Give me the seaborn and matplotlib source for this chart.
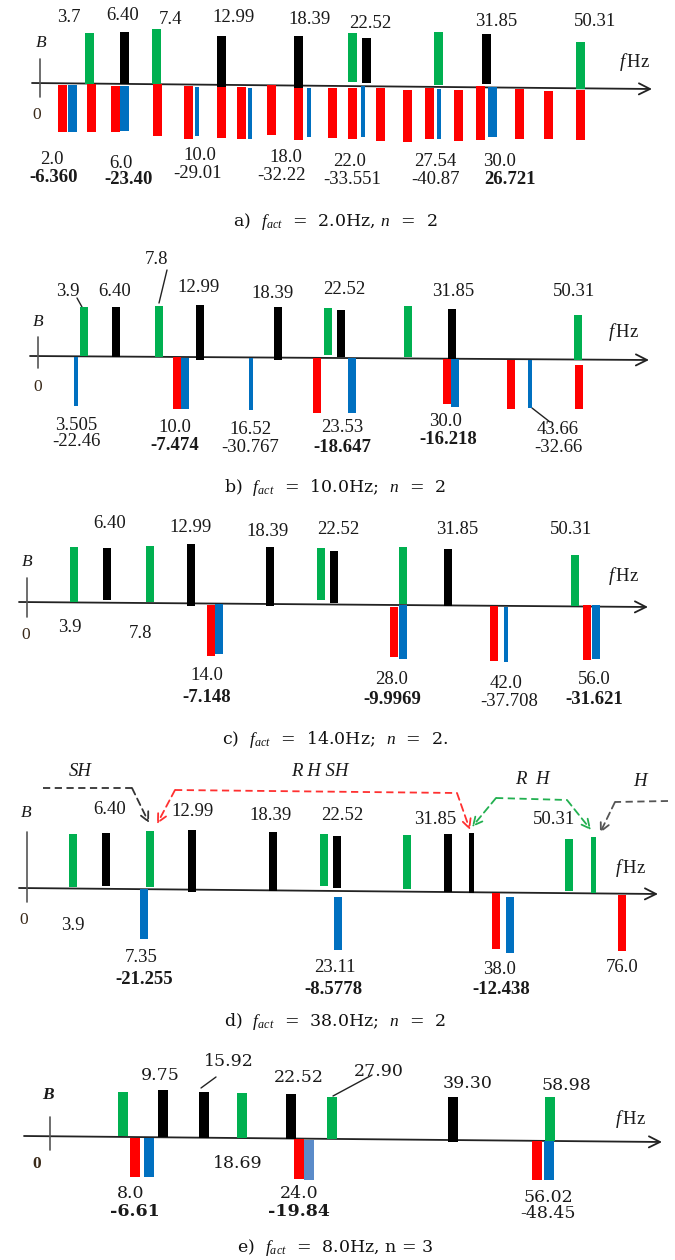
import numpy as np
import matplotlib
matplotlib.use("Agg")
import matplotlib.pyplot as plt
import seaborn as sns

sns.set_theme(style="white")
plt.rcParams['font.family'] = ['Liberation Serif', 'DejaVu Serif']
plt.rcParams['mathtext.fontset'] = 'custom'
plt.rcParams['mathtext.rm'] = 'Liberation Serif'
plt.rcParams['mathtext.it'] = 'Liberation Serif:italic'
plt.rcParams['mathtext.bf'] = 'Liberation Serif:bold'

# ---------------- data ----------------
# panel a
a_up_pos = [89, 124, 156, 221, 298, 352, 366, 438, 486, 580]
a_up_kind = "GKGKKGKGKG"
a_up_top = [51, 52, 55, 49, 50, 53, 48, 55, 53, 46]
a_up_bot = [0, 0, 0, -2, -2, 4, 3, 2, 3, -1]
a_dn_pos = [62, 72, 91, 115, 124, 157, 188, 197, 221, 241, 250, 271, 298, 309,
            332, 352, 363, 380, 407, 429, 439, 458, 480, 492, 519, 548, 580]
a_dn_kind = "RBRRB" + "RRb" * 4 + "RRRb" + "RRB" + "RRR"
a_dn_off = [2, 2, 0, 2, 2, 0, 1.5, 2, 2.5, 2, 3, 0, 2, 2, 2.5, 2, 0, 2, 3.4, 1.5,
            2, 3, -1.5, 0, 1.6, 2.7, 1.7]
a_dn_len = [49, 49, 48, 48, 47, 52, 54, 51.5, 53, 54, 54, 50, 54, 51, 52, 53, 50.5,
            55, 55, 52.5, 52.5, 53.5, 52.7, 50, 51.6, 51.3, 51.7]
a_top_txt = ["3.7", "6.40", "7.4", "12.99", "18.39", "22.52", "31.85", "50.31"]
a_top_x = [69, 123, 170, 234, 310, 370, 496, 595]
a_top_y = [18, 15, 19, 18, 19, 23, 22, 22]
a_frq_txt = ["2.0", "6.0", "10.0", "18.0", "22.0", "27.54", "30.0"]
a_frq_x = [52, 121, 200, 286, 350, 435, 500]
a_frq_y = [159, 163, 155, 157, 161, 161, 161]
a_val_txt = ["-6.360", "-23.40", "-29.01", "-32.22", "-33.551", "-40.87", "26.721"]
a_val_x = [54, 129, 197, 281, 352, 435, 510]
a_val_y = [178, 180, 173, 175, 180, 180, 179]
a_val_bold = [1, 1, 0, 0, 0, 0, 1]

# panel b
b_up_pos = [84, 116, 159, 200, 278, 328, 341, 408, 452, 578]
b_up_kind = "GKGKKGKGKG"
b_up_top = [49, 50, 51, 52, 51, 50, 48, 52, 50, 45]
b_up_bot = [0, 0, 0, -3, -2.5, 3, 1, 1, -1.5, 0]
b_dn_pos = [76, 177, 185, 251, 317, 352, 447, 455, 511, 530, 579]
b_dn_kind = "bRBbRBRBRbR"
b_dn_off = [1, 0, 1, 1, 0, 0, 0, 0, 1, 1, 5.5]
b_dn_len = [50, 52, 52, 52.5, 55, 54.5, 45, 48, 50, 49, 49.5]
b_top_txt = ["3.9", "6.40", "7.8", "12.99", "18.39", "22.52", "31.85", "50.31"]
b_top_x = [68, 115, 157, 199, 273, 344, 453, 574]
b_top_y = [292, 292, 260, 288, 293, 290, 292, 292]
b_frq_txt = ["3.505", "10.0", "16.52", "23.53", "30.0", "43.66"]
b_frq_x = [76, 175, 250, 342, 446, 558]
b_frq_y = [425, 427, 430, 428, 422, 430]
b_val_txt = ["-22.46", "-7.474", "-30.767", "-18.647", "-16.218", "-32.66"]
b_val_x = [76, 175, 250, 342, 448, 558]
b_val_y = [442, 445, 448, 447, 440, 448]
b_val_bold = [0, 1, 0, 1, 1, 0]

# panel c
c_up_pos = [74, 107, 150, 191, 270, 321, 334, 403, 448, 575]
c_up_kind = "GKGKKGKGKG"
c_up_top = [55, 55, 57, 59, 57, 56, 54, 58, 56, 51]
c_up_bot = [0, 2.5, 1, -2.5, -2, 4.5, 2, 1, -0.5, 0]
c_dn_pos = [211, 219, 394, 403, 494, 506, 587, 596]
c_dn_kind = "RBRBRbRB"
c_dn_off = [1.5, 0, 1.7, 0, 0, 1.5, -2, -2]
c_dn_len = [52, 50, 52, 54, 55, 56, 53, 52]
c_top_txt = ["6.40", "12.99", "18.39", "22.52", "31.85", "50.31", "3.9", "7.8"]
c_top_x = [110, 191, 268, 338, 457, 571, 70, 141]
c_top_y = [523, 527, 532, 529, 529, 529, 627, 634]
c_frq_txt = ["14.0", "28.0", "42.0", "56.0"]
c_frq_x = [207, 392, 506, 594]
c_frq_y = [675, 679, 683, 679]
c_val_txt = ["-7.148", "-9.9969", "-37.708", "-31.621"]
c_val_x = [207, 392, 509, 594]
c_val_y = [697, 699, 702, 700]
c_val_bold = [1, 1, 0, 1]

# panel d
d_up_pos = [73, 106, 150, 192, 273, 324, 337, 407, 448, 471, 569, 593]
d_up_kind = "GKGKKGKGKkGg"
d_up_top = [55, 56, 58, 60, 58, 57, 55, 57, 58, 59, 54, 56]
d_up_bot = [2, 3, 2.5, -2, -1, 5, 3, 3, 0, -1, 2.5, 0]
d_dn_pos = [144, 338, 496, 510, 622]
d_dn_kind = "BBRBR"
d_dn_off = [0, 5.7, 1, 4, 1.3]
d_dn_len = [50, 59, 57, 60, 57]
d_top_txt = ["6.40", "12.99", "18.39", "22.52", "31.85", "50.31", "3.9"]
d_top_x = [110, 193, 271, 342, 435, 554, 73]
d_top_y = [809, 812, 816, 815, 819, 820, 925]
d_frq_txt = ["7.35", "23.11", "38.0", "76.0"]
d_frq_x = [141, 335, 500, 622]
d_frq_y = [958, 968, 970, 968]
d_val_txt = ["-21.255", "-8.5778", "-12.438"]
d_val_x = [144, 333, 501]
d_val_y = [980, 989, 990]
d_val_bold = [1, 1, 1]
d_tag_txt = ["SH", "R H SH", "R  H", "H"]
d_tag_x = [80, 320, 532, 640]
d_tag_y = [772, 772, 780, 782]

# panel e
e_up_pos = [123, 163, 204, 242, 291, 332, 453, 550]
e_up_kind = "GKKGKGKG"
e_up_top = [45, 47, 46, 45, 44.5, 42, 43, 44]
e_up_bot = [1, 0, 0, 0, 0, 0, -2, 0]
e_dn_pos = [135, 149, 299, 309, 537, 549]
e_dn_kind = "RBRLRB"
e_dn_off = [1, 1, 0, 1, 0, 0]
e_dn_len = [40, 40, 40, 41, 39, 39]
e_top_txt = ["9.75", "15.92", "22.52", "27.90", "39.30", "58.98", "18.69"]
e_top_x = [160, 229, 299, 379, 468, 566, 238]
e_top_y = [1075, 1062, 1078, 1071, 1083, 1085, 1163]
e_frq_txt = ["8.0", "24.0", "56.02"]
e_frq_x = [131, 299, 548]
e_frq_y = [1193, 1193, 1197]
e_val_txt = ["-6.61", "-19.84", "-48.45"]
e_val_x = [135, 299, 548]
e_val_y = [1212, 1212, 1213]
e_val_bold = [1, 1, 0]

captions = [r"a)  $f_{act}$  =  2.0Hz, $n$  =  2",
            r"b)  $f_{act}$  =  10.0Hz;  $n$  =  2",
            r"c)  $f_{act}$  =  14.0Hz;  $n$  =  2.",
            r"d)  $f_{act}$  =  38.0Hz;  $n$  =  2",
            r"e)  $f_{act}$  =  8.0Hz, n = 3"]

# ---------------- layout / style ----------------
COL = {'G': '#00b050', 'g': '#00b050', 'K': '#000000', 'k': '#000000',
       'R': '#ff0000', 'B': '#0070c0', 'b': '#0070c0', 'L': '#5b8bc9'}
WID = {'G': 9, 'g': 5, 'K': 9, 'k': 5, 'R': 9, 'B': 9, 'b': 4, 'L': 10}
AXES = {
    'a': dict(line=(32, 83, 652, 89), tick=(40, 59, 97), B=(41, 43), Z=(37, 115), F=(634, 62), cap=222, w=9),
    'b': dict(line=(30, 356, 649, 360), tick=(38, 337, 368), B=(38, 322), Z=(38, 387), F=(623, 332), cap=487, w=8.5),
    'c': dict(line=(19, 602, 648, 607), tick=(27, 578, 617), B=(27, 562), Z=(26, 635), F=(623, 576), cap=740, w=8.5),
    'd': dict(line=(19, 888, 658, 894), tick=(27, 832, 902), B=(26, 813), Z=(24, 920), F=(630, 868), cap=1022, w=8.5),
    'e': dict(line=(24, 1136, 662, 1142), tick=(50, 1117, 1150), B=(48, 1095), Z=(37, 1164), F=(630, 1119), cap=1248, w=10),
}
FS = 13.5
TXT = '#1a1a1a'

fig = plt.figure(figsize=(6.75, 12.6), dpi=100)
ax = fig.add_axes([0, 0, 1, 1])
ax.set_xlim(0, 675)
ax.set_ylim(1260, 0)
ax.axis('off')


def baseline(cfg, x):
    xl, yl, xr, yr = cfg['line']
    return yl + (yr - yl) * (np.asarray(x, float) - xl) / (xr - xl)


def draw_panel(key, up_pos, up_kind, up_top, up_bot, dn_pos, dn_kind, dn_off, dn_len,
               top_txt, top_x, top_y, frq_txt, frq_x, frq_y, val_txt, val_x, val_y,
               val_bold, caption, family=None, fs=FS):
    cfg = AXES[key]
    xl, yl, xr, yr = cfg['line']
    fam = family or ['Liberation Serif', 'DejaVu Serif']
    ax.annotate("", xy=(xr, yr), xytext=(xl, yl),
                arrowprops=dict(arrowstyle='->', lw=1.3, color='#222222',
                                mutation_scale=20, shrinkA=0, shrinkB=0), zorder=1)
    tx, t0, t1 = cfg['tick']
    ax.plot([tx, tx], [t0, t1], color='#555555', lw=1.2, zorder=1)
    # upper bars
    up_pos = np.asarray(up_pos, float)
    yb = baseline(cfg, up_pos)
    top = yb - np.asarray(up_top, float)
    bot = yb - np.asarray(up_bot, float)
    widths = [cfg['w'] if k.isupper() else WID[k] for k in up_kind]
    ax.bar(up_pos, bot - top, bottom=top, width=widths,
           color=[COL[k] for k in up_kind], linewidth=0, zorder=3)
    # lower bars
    dn_pos = np.asarray(dn_pos, float)
    yb = baseline(cfg, dn_pos)
    start = yb + np.asarray(dn_off, float)
    end = yb + np.asarray(dn_len, float)
    widths = [WID[k] if k in 'bL' else cfg['w'] for k in dn_kind]
    ax.bar(dn_pos, end - start, bottom=start, width=widths,
           color=[COL[k] for k in dn_kind], linewidth=0, zorder=3)
    # labels
    for t, x, y in zip(top_txt, top_x, top_y):
        ax.text(x, y, t, ha='center', va='center', fontsize=fs, color=TXT, family=fam)
    for t, x, y in zip(frq_txt, frq_x, frq_y):
        ax.text(x, y, t, ha='center', va='center', fontsize=fs, color=TXT, family=fam)
    for t, x, y, b in zip(val_txt, val_x, val_y, val_bold):
        ax.text(x, y, t, ha='center', va='center', fontsize=fs, color=TXT, family=fam,
                fontweight='bold' if b else 'normal')
    ax.text(*cfg['B'], "B", ha='center', va='center', fontsize=12.5, style='italic',
            color=TXT, fontweight='bold' if key == 'e' else 'normal')
    ax.text(*cfg['Z'], "0", ha='center', va='center', fontsize=12.5, color='#3a2a1a',
            fontweight='bold' if key == 'e' else 'normal')
    ax.text(*cfg['F'], r"$f\,$Hz", ha='center', va='center', fontsize=13.5, color=TXT)
    ax.text(335, cfg['cap'], caption, ha='center', va='center', fontsize=12.5,
            color='#111111', family=['DejaVu Serif'])


draw_panel('a', a_up_pos, a_up_kind, a_up_top, a_up_bot, a_dn_pos, a_dn_kind, a_dn_off, a_dn_len,
           a_top_txt, a_top_x, a_top_y, a_frq_txt, a_frq_x, a_frq_y, a_val_txt, a_val_x, a_val_y,
           a_val_bold, captions[0])
draw_panel('b', b_up_pos, b_up_kind, b_up_top, b_up_bot, b_dn_pos, b_dn_kind, b_dn_off, b_dn_len,
           b_top_txt, b_top_x, b_top_y, b_frq_txt, b_frq_x, b_frq_y, b_val_txt, b_val_x, b_val_y,
           b_val_bold, captions[1])
draw_panel('c', c_up_pos, c_up_kind, c_up_top, c_up_bot, c_dn_pos, c_dn_kind, c_dn_off, c_dn_len,
           c_top_txt, c_top_x, c_top_y, c_frq_txt, c_frq_x, c_frq_y, c_val_txt, c_val_x, c_val_y,
           c_val_bold, captions[2])
draw_panel('d', d_up_pos, d_up_kind, d_up_top, d_up_bot, d_dn_pos, d_dn_kind, d_dn_off, d_dn_len,
           d_top_txt, d_top_x, d_top_y, d_frq_txt, d_frq_x, d_frq_y, d_val_txt, d_val_x, d_val_y,
           d_val_bold, captions[3])
draw_panel('e', e_up_pos, e_up_kind, e_up_top, e_up_bot, e_dn_pos, e_dn_kind, e_dn_off, e_dn_len,
           e_top_txt, e_top_x, e_top_y, e_frq_txt, e_frq_x, e_frq_y, e_val_txt, e_val_x, e_val_y,
           e_val_bold, captions[4], family=['DejaVu Serif'], fs=12.5)

# pointer lines (panel b, e)
pointers = [((77, 298), (82, 307)), ((167, 270), (159, 303)), ((532, 408), (550, 422)),
            ((216, 1077), (201, 1088)), ((372, 1075), (333, 1096))]
for (x0, y0), (x1, y1) in pointers:
    ax.plot([x0, x1], [y0, y1], color='#222222', lw=1.0, zorder=2)

# panel d tags and dashed arrows
for t, x, y in zip(d_tag_txt, d_tag_x, d_tag_y):
    ax.text(x, y, t, ha='center', va='center', fontsize=13.5, style='italic', color=TXT)

arrow_paths = [
    ('#333333', [(43, 788), (132, 788)], (132, 788), (149, 823)),
    ('#ff3030', [(175, 790), (457, 793)], (457, 793), (470, 830)),
    ('#ff3030', [], (175, 790), (157, 824)),
    ('#22b050', [(496, 798), (567, 800)], (567, 800), (591, 830)),
    ('#22b050', [], (496, 798), (472, 827)),
    ('#555555', [(668, 801), (615, 802)], (615, 802), (600, 833)),
]
for col, path, p0, p1 in arrow_paths:
    if path:
        xs, ys = zip(*path)
        ax.plot(xs, ys, color=col, lw=1.3, ls=(0, (4, 2.5)), zorder=2)
    ax.annotate("", xy=p1, xytext=p0,
                arrowprops=dict(arrowstyle='->', lw=1.3, color=col, ls=(0, (4, 2.5)),
                                mutation_scale=16, shrinkA=0, shrinkB=0), zorder=2)

fig.savefig("out.png", dpi=100, facecolor='white')
